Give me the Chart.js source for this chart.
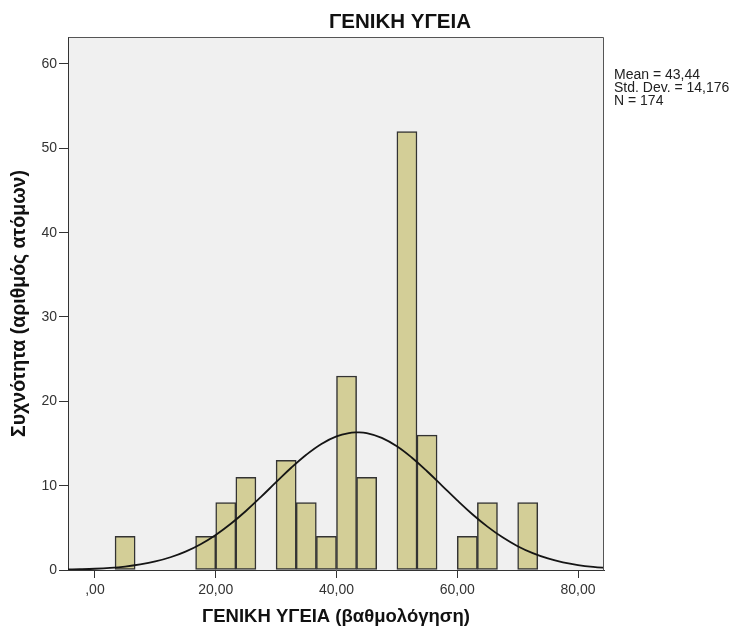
<!DOCTYPE html>
<html><head><meta charset="utf-8">
<script src="https://cdn.jsdelivr.net/npm/chart.js@4"></script>
<style>html,body{margin:0;padding:0;background:#fff;}canvas{display:block;}</style>
</head><body>
<canvas id="c" width="734" height="635"></canvas>
<script>
const chartTitle = 'ΓΕΝΙΚΗ ΥΓΕΙΑ';
const xTitle = 'ΓΕΝΙΚΗ ΥΓΕΙΑ (βαθμολόγηση)';
const yTitle = 'Συχνότητα (αριθμός ατόμων)';
const statsLines = ['Mean = 43,44', 'Std. Dev. = 14,176', 'N = 174'];

const binWidth = 3.3333;
const binStarts = [3.33, 16.67, 20.00, 23.33, 30.00, 33.33, 36.67, 40.00, 43.33, 50.00, 53.33, 60.00, 63.33, 70.00];
const counts    = [4,    4,     8,     11,    13,    8,     4,     23,    11,    52,    16,    4,     8,     8];

const curveX = [-5, -2.5, 0, 2.5, 5, 7.5, 10, 12.5, 15, 17.5, 20, 22.5, 25, 27.5, 30, 32.5, 35, 37.5, 40, 42.5, 43.44, 45, 47.5, 50, 52.5, 55, 57.5, 60, 62.5, 65, 67.5, 70, 72.5, 75, 77.5, 80, 82.5, 85];
const curveY = [0.05, 0.09, 0.15, 0.25, 0.41, 0.66, 1.01, 1.51, 2.18, 3.06, 4.16, 5.48, 7.00, 8.67, 10.41, 12.12, 13.67, 14.95, 15.85, 16.29, 16.32, 16.22, 15.67, 14.67, 13.31, 11.71, 9.98, 8.25, 6.61, 5.14, 3.87, 2.82, 2.00, 1.37, 0.91, 0.59, 0.37, 0.22];

const xTickValues = [0, 20, 40, 60, 80];
const xTickLabels = [',00', '20,00', '40,00', '60,00', '80,00'];
const yTickValues = [0, 10, 20, 30, 40, 50, 60];

const FONT = '"Liberation Sans", Arial, sans-serif';

const decor = {
  id: 'decor',
  beforeDraw(chart) {
    const {ctx, chartArea: a} = chart;
    ctx.save();
    ctx.fillStyle = '#f0f0f0';
    ctx.fillRect(a.left, a.top, a.right - a.left, a.bottom - a.top);
    ctx.restore();
  },
  afterDraw(chart) {
    const {ctx, chartArea: a} = chart;
    ctx.save();
    ctx.strokeStyle = '#555';
    ctx.lineWidth = 1;
    ctx.beginPath();
    ctx.moveTo(Math.round(a.left) + 0.5, Math.round(a.top) + 0.5);
    ctx.lineTo(Math.round(a.right) - 0.5, Math.round(a.top) + 0.5);
    ctx.lineTo(Math.round(a.right) - 0.5, Math.round(a.bottom) + 0.5);
    ctx.stroke();
    ctx.fillStyle = '#111';
    ctx.font = 'bold 20.5px ' + FONT;
    ctx.textAlign = 'center';
    ctx.textBaseline = 'alphabetic';
    ctx.fillText(chartTitle, 400, 28);
    ctx.fillStyle = '#222';
    ctx.font = '14px ' + FONT;
    ctx.textAlign = 'left';
    statsLines.forEach((t, i) => ctx.fillText(t, 614, 78.7 + i * 13.2));
    ctx.restore();
  }
};

new Chart(document.getElementById('c'), {
  data: {
    datasets: [
      {
        type: 'line',
        data: curveX.map((x, i) => ({x, y: curveY[i]})),
        borderColor: '#151515',
        borderWidth: 1.8,
        pointRadius: 0,
        tension: 0.4,
        fill: false,
        order: 1
      },
      {
        type: 'bar',
        data: binStarts.map((s, i) => ({x: s + binWidth / 2, y: counts[i]})),
        backgroundColor: '#d3ce97',
        borderColor: '#333',
        borderWidth: 1.5,
        borderSkipped: false,
        barPercentage: 1,
        categoryPercentage: 1,
        order: 2
      }
    ]
  },
  options: {
    responsive: false,
    animation: false,
    devicePixelRatio: 1,
    layout: {padding: {top: 37, right: 130, bottom: 0, left: 0}},
    plugins: {legend: {display: false}, tooltip: {enabled: false}},
    scales: {
      x: {
        type: 'linear',
        min: -4.46,
        max: 84.3,
        offset: false,
        afterFit: s => { s.height = 65; },
        afterBuildTicks: s => { s.ticks = xTickValues.map(v => ({value: v})); },
        ticks: {
          callback: v => xTickLabels[xTickValues.indexOf(v)],
          font: {family: FONT, size: 14},
          color: '#333',
          padding: 4,
          maxRotation: 0,
          autoSkip: false
        },
        grid: {drawOnChartArea: false, drawTicks: true, tickLength: 8, color: '#333', offset: false},
        border: {display: true, color: '#333', width: 1},
        title: {display: true, text: xTitle, font: {family: FONT, size: 18.5, weight: 'bold'}, color: '#111', padding: {top: 0, bottom: 6.9}}
      },
      y: {
        type: 'linear',
        min: 0,
        max: 63.2,
        afterFit: s => { s.width = 68; },
        afterBuildTicks: s => { s.ticks = yTickValues.map(v => ({value: v})); },
        ticks: {
          font: {family: FONT, size: 14},
          color: '#333',
          padding: 2
        },
        grid: {drawOnChartArea: false, drawTicks: true, tickLength: 9, color: '#333'},
        border: {display: true, color: '#333', width: 1},
        title: {display: true, text: yTitle, font: {family: FONT, size: 19.5, weight: 'bold'}, color: '#111', padding: {top: 8.3, bottom: 0}}
      }
    }
  },
  plugins: [decor]
});
</script>
</body></html>
